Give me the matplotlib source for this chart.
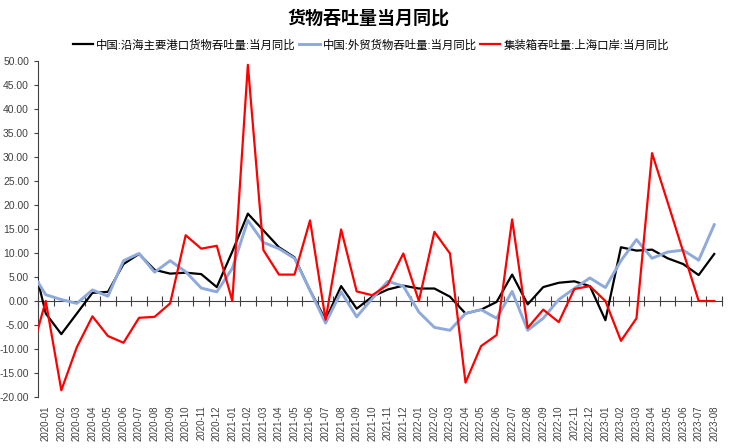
import numpy as np
import pandas as pd
import matplotlib
matplotlib.use('Agg')
import matplotlib.pyplot as plt

plt.rcParams['font.family'] = ['Liberation Sans', 'Noto Sans CJK SC']

# months, the first one (2019-12) only shows as the line entering the plot
months = [str(p) for p in pd.period_range('2019-12', '2023-08', freq='M')]

coastal = [10.8,
           -2.6, -6.9, -2.6, 1.7, 1.9, 7.7, 9.8, 6.5, 5.7, 5.9, 5.6, 2.9,
           10.3, 18.2, 14.7, 11.2, 9.1, 2.2, -3.9, 3.1, -1.6, 0.9, 2.4, 3.2,
           2.6, 2.6, 0.9, -2.6, -1.8, -0.2, 5.5, -0.7, 2.9, 3.8, 4.1, 3.1,
           -4.0, 11.2, 10.5, 10.7, 8.9, 7.7, 5.4, 9.8]
foreign = [6.5,
           1.3, 0.3, -0.5, 2.3, 1.0, 8.4, 9.9, 6.0, 8.4, 6.1, 2.7, 1.9,
           6.8, 16.8, 12.2, 10.9, 8.9, 2.2, -4.6, 1.9, -3.3, 0.5, 4.1, 3.1,
           -2.3, -5.5, -6.1, -2.6, -1.8, -3.6, 2.0, -6.1, -3.6, 0.3, 2.6, 4.8,
           2.8, 8.4, 12.8, 8.9, 10.2, 10.6, 8.5, 15.9]
container_sh = [-11.5,
                0.0, -18.6, -9.6, -3.2, -7.3, -8.7, -3.5, -3.3, -0.5, 13.7, 10.9, 11.5,
                0.0, 49.2, 10.6, 5.5, 5.5, 16.8, -3.9, 14.9, 2.0, 1.2, 3.4, 9.9,
                0.0, 14.4, 9.9, -17.0, -9.4, -7.1, 17.0, -5.6, -1.8, -4.4, 2.5, 3.1,
                0.0, -8.3, -3.6, 30.8, 20.6, 10.3, 0.0, 0.0]

names = ['中国:沿海主要港口货物吞吐量:当月同比',
         '中国:外贸货物吞吐量:当月同比',
         '集装箱吞吐量:上海口岸:当月同比']

x = np.arange(len(months))
ymin, ymax = -20, 50

fig = plt.figure(figsize=(7.37, 4.48), dpi=100)
ax = fig.add_axes([38 / 737, 1 - 397 / 448, 684 / 737, 336 / 448])

l1, = ax.plot(x, coastal, color='black', lw=1.6, zorder=3)
l2, = ax.plot(x, foreign, color='#8EA9DB', lw=2.1, zorder=4)
l3, = ax.plot(x, container_sh, color='#FF0000', lw=1.6, zorder=5)

ax.set_xlim(0.5, len(months) - 0.5)
ax.set_ylim(ymin, ymax)
ax.set_yticks(np.arange(ymin, ymax + 1, 5))
ax.set_yticklabels(['%.2f' % v for v in np.arange(ymin, ymax + 1, 5)])
ax.set_xticks(x[1:])
ax.set_xticklabels(months[1:], rotation=90)
ax.tick_params(axis='x', length=0, pad=6, labelsize=7, labelcolor='#404040')
ax.tick_params(axis='y', direction='out', length=3, labelsize=7.5,
               labelcolor='#404040', color='#404040')

for s in ['top', 'right', 'bottom']:
    ax.spines[s].set_visible(False)
ax.spines['left'].set_color('#404040')

# category axis drawn along zero with cross ticks between months
zero_axis = ax.secondary_xaxis((0 - ymin) / (ymax - ymin))
zero_axis.set_xticks(np.arange(0.5, len(months), 1))
zero_axis.tick_params(direction='inout', length=7, color='#404040', labelbottom=False)
zero_axis.spines['bottom'].set_color('#404040')

fig.text(0.5, 0.958, '货物吞吐量当月同比', ha='center', va='center',
         fontsize=13, fontweight='bold')
fig.legend([l1, l2, l3], names, loc='center', bbox_to_anchor=(0.503, 0.9),
           ncol=3, frameon=False, fontsize=8.2, handlelength=1.8,
           handletextpad=0.25, columnspacing=0.3)

fig.savefig('out.png', dpi=100)
